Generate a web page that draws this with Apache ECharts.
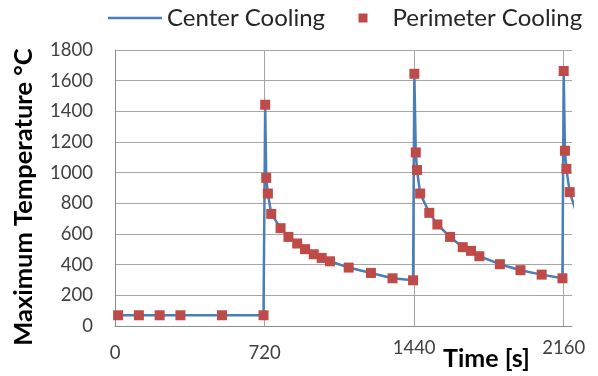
<!DOCTYPE html>
<html>
<head>
<meta charset="utf-8">
<script src="https://cdn.jsdelivr.net/npm/echarts@6/dist/echarts.min.js"></script>
<style>html,body{margin:0;padding:0;background:#fff}#c{width:598px;height:376px}</style>
</head>
<body>
<div id="c"></div>
<script>
// Perimeter Cooling (markers)
const perimTime = [15,115,215,315,515,715, 723,728,736,752,797,835,877,915,957,995,1035,1125,1232,1336,1435, 1441,1448,1454,1469,1513,1552,1613,1674,1714,1754,1853,1952,2054,2154, 2160,2166,2173,2189];
const perimTemp = [70,70,70,70,70,70, 1443,966,864,731,638,581,538,501,468,444,422,381,346,311,298, 1645,1132,1017,864,738,662,581,514,490,455,403,364,335,311, 1663,1143,1025,873];
// Center Cooling (line)
const centerTime = [15,115,215,315,515,715, 723,728,736,752,797,835,877,915,957,995,1035,1125,1232,1336,1435, 1441,1448,1454,1469,1513,1552,1613,1674,1714,1754,1853,1952,2054,2154, 2160,2166,2173,2189,2230];
const centerTemp = [70,70,70,70,70,70, 1443,966,864,731,638,581,538,501,468,444,422,381,346,311,298, 1645,1132,1017,864,738,662,581,514,490,455,403,364,335,311, 1663,1143,1025,873,700];
const xTicks = [0,720,1440,2160];
const yTicks = [0,200,400,600,800,1000,1200,1400,1600,1800];

const FONT = 'Lato';
const chart = echarts.init(document.getElementById('c'), null, {renderer:'canvas'});
chart.setOption({
  animation:false,
  textStyle:{fontFamily:FONT},
  legend:[
    {data:[{name:'Center Cooling', icon:'rect'}], left:108, top:6, padding:0, itemWidth:54, itemHeight:2.5,
     itemStyle:{color:'#4a7ebb'},
     textStyle:{fontSize:24, color:'#262626', fontFamily:FONT}},
    {data:[{name:'Perimeter Cooling', icon:'rect'}], left:358.5, top:6, padding:0, itemWidth:9, itemHeight:9,
     textStyle:{fontSize:24, color:'#262626', fontFamily:FONT, padding:[0,0,0,20]}}
  ],
  grid:{left:115, right:26, top:50, bottom:50, containLabel:false, outerBoundsMode:'none'},
  xAxis:{
    type:'value', min:0, max:2200, interval:720,
    name:'Time [s]', nameLocation:'middle', nameGap:20, nameMoveOverlap:false,
    nameTextStyle:{fontSize:25, fontWeight:'bold', color:'#000', fontFamily:FONT, padding:[0,0,0,286]},
    axisLine:{show:true, lineStyle:{color:'#8c8c8c', width:1}},
    axisTick:{show:false, customValues:xTicks},
    axisLabel:{customValues:xTicks, margin:13, fontSize:18.5, color:'#404040', fontFamily:FONT,
      formatter:function(v){ return v>=1440 ? '{h|'+v+'}' : '{l|'+v+'}'; },
      rich:{h:{fontSize:18.5, lineHeight:18, color:'#404040', fontFamily:FONT},
            l:{fontSize:18.5, lineHeight:28, color:'#404040', fontFamily:FONT}}},
    splitLine:{show:true, lineStyle:{color:'#a6a6a6', width:1}}
  },
  yAxis:{
    type:'value', min:0, max:1800, interval:200,
    name:'Maximum Temperature °C', nameLocation:'middle', nameRotate:90, nameGap:78, nameMoveOverlap:false,
    nameTextStyle:{fontSize:25.5, fontWeight:'bold', color:'#000', fontFamily:FONT, padding:[0,18,0,0]},
    axisLine:{show:true, lineStyle:{color:'#8c8c8c', width:1}},
    axisTick:{show:false},
    axisLabel:{margin:22, fontSize:18.5, color:'#404040', fontFamily:FONT, formatter:function(v){return String(v);}},
    splitLine:{show:true, lineStyle:{color:'#a6a6a6', width:1}}
  },
  series:[
    {name:'Center Cooling', type:'line', symbol:'none', showSymbol:false, clip:true,
     lineStyle:{color:'#4a7ebb', width:2.5}, itemStyle:{color:'#4a7ebb'},
     data:centerTime.map((t,i)=>[t,centerTemp[i]]), z:2},
    {name:'Perimeter Cooling', type:'scatter', symbol:'rect', symbolSize:10,
     itemStyle:{color:'#be4b48', opacity:1},
     data:perimTime.map((t,i)=>[t,perimTemp[i]]), z:3}
  ]
});
</script>
</body>
</html>
